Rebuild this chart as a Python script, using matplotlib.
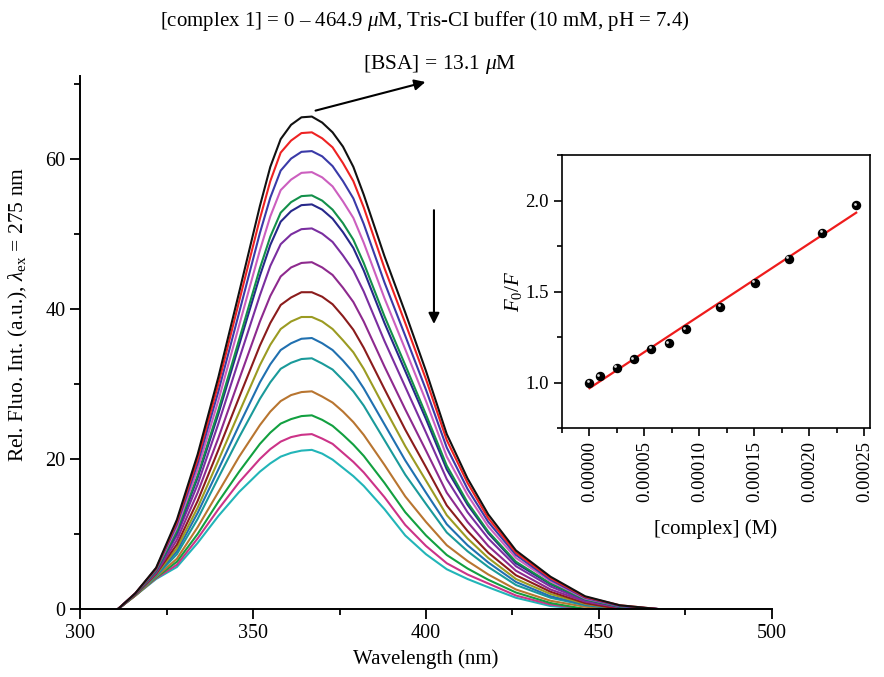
import numpy as np
import matplotlib
matplotlib.use("Agg")
import matplotlib.pyplot as plt
from matplotlib.ticker import MultipleLocator, FormatStrFormatter
from matplotlib.transforms import offset_copy

plt.rcParams['font.family'] = ['Liberation Serif', 'DejaVu Serif']
plt.rcParams['mathtext.fontset'] = 'custom'
plt.rcParams['mathtext.rm'] = 'Liberation Serif'
plt.rcParams['mathtext.it'] = 'Liberation Serif:italic'

nan = np.nan

# emission spectra
wl = [311, 316, 322, 328, 334, 340, 346, 352, 355, 358, 361, 364, 367, 370,
      373, 376, 379, 382, 388, 394, 400, 406, 412, 418, 426, 436, 446, 456, 467]

black = [0, 2.1, 5.5, 11.9, 20.6, 30.9, 42.2, 53.7, 58.9, 62.6, 64.5, 65.5, 65.6, 64.8, 63.5, 61.6, 58.9, 55.2, 47.0, 39.5, 31.7, 23.3, 17.4, 12.6, 7.8, 4.3, 1.7, 0.5, 0]
red = [0, 2.1, 5.4, 11.6, 20.0, 30.0, 41.0, 52.0, 57.0, 60.8, 62.4, 63.4, 63.5, 62.7, 61.5, 59.4, 57.0, 53.5, 45.4, 38.1, 30.6, 22.5, 16.8, 12.1, 7.5, 4.1, 1.6, 0.5, 0]
blue = [0, 2.1, 5.3, 11.3, 19.4, 29.0, 39.5, 50.1, 54.8, 58.4, 60.0, 60.9, 61.0, 60.3, 59.0, 57.0, 54.7, 51.3, 43.5, 36.4, 29.2, 21.5, 16.0, 11.6, 7.2, 3.9, 1.5, 0.4, 0]
pink = [0, 2.1, 5.3, 10.9, 18.6, 27.8, 37.8, 47.8, 52.3, 55.8, 57.2, 58.1, 58.2, 57.5, 56.3, 54.3, 52.1, 48.8, 41.4, 34.6, 27.7, 20.3, 15.2, 11.0, 6.8, 3.7, 1.4, 0.4, 0]
green = [0, 2.0, 5.1, 10.4, 17.8, 26.5, 35.9, 45.4, 49.6, 52.8, 54.2, 55.0, 55.1, 54.4, 53.2, 51.4, 49.2, 46.1, 39.0, 32.5, 25.9, 19.1, 14.2, 10.3, 6.3, 3.4, 1.3, 0.3, 0]
navy = [0, 2.0, 5.1, 10.2, 17.5, 26.0, 35.2, 44.4, 48.5, 51.6, 53.0, 53.8, 53.9, 53.2, 52.0, 50.2, 48.1, 45.1, 38.1, 31.7, 25.3, 18.6, 13.9, 10.1, 6.1, 3.3, 1.3, 0.3, 0]
violet = [0, 2.0, 5.0, 9.8, 16.6, 24.7, 33.3, 41.8, 45.7, 48.6, 49.9, 50.6, 50.7, 50.0, 48.9, 47.1, 45.1, 42.3, 35.7, 29.6, 23.5, 17.3, 12.9, 9.4, 5.7, 3.0, 1.1, 0.3, 0]
purple = [0, 2.0, 4.8, 9.2, 15.5, 22.8, 30.6, 38.3, 41.7, 44.3, 45.5, 46.1, 46.2, 45.5, 44.5, 42.8, 40.9, 38.3, 32.3, 26.6, 21.1, 15.5, 11.6, 8.4, 5.1, 2.6, 1.0, 0.2, 0]
wine = [0, 1.9, 4.7, 8.6, 14.4, 21.2, 28.2, 35.1, 38.1, 40.5, 41.5, 42.2, 42.2, 41.6, 40.6, 39.0, 37.2, 34.8, 29.3, 23.9, 18.9, 13.8, 10.4, 7.5, 4.5, 2.3, 0.8, 0, nan]
olive = [0, 1.9, 4.6, 8.1, 13.5, 19.8, 26.2, 32.5, 35.2, 37.3, 38.3, 38.9, 38.9, 38.3, 37.3, 35.8, 34.2, 32.0, 26.8, 21.7, 17.1, 12.5, 9.4, 6.8, 4.0, 2.0, 0.7, 0, nan]
royal = [0, 1.9, 4.5, 7.7, 12.8, 18.6, 24.5, 30.2, 32.6, 34.5, 35.4, 36.0, 36.1, 35.4, 34.5, 33.1, 31.5, 29.4, 24.6, 19.8, 15.5, 11.3, 8.5, 6.2, 3.6, 1.7, 0.6, 0, nan]
teal = [0, 1.9, 4.4, 7.3, 12.0, 17.5, 22.9, 28.0, 30.2, 32.0, 32.8, 33.3, 33.4, 32.7, 31.9, 30.5, 29.0, 27.1, 22.5, 17.9, 14.0, 10.2, 7.7, 5.6, 3.2, 1.5, 0.5, 0, nan]
orange = [0, 1.8, 4.3, 6.7, 10.9, 15.6, 20.3, 24.5, 26.3, 27.7, 28.5, 28.9, 29.0, 28.3, 27.5, 26.3, 24.9, 23.2, 19.2, 15.0, 11.6, 8.5, 6.4, 4.6, 2.6, 1.1, 0.3, 0, nan]
green2 = [0, 1.8, 4.2, 6.3, 10.0, 14.3, 18.3, 22.0, 23.5, 24.7, 25.3, 25.7, 25.8, 25.2, 24.4, 23.2, 21.9, 20.4, 16.8, 12.9, 9.8, 7.2, 5.4, 3.9, 2.2, 0.8, 0, nan, nan]
magenta = [0, 1.8, 4.1, 5.9, 9.4, 13.3, 16.9, 20.0, 21.3, 22.3, 22.9, 23.2, 23.3, 22.7, 22.0, 20.8, 19.6, 18.2, 14.9, 11.2, 8.4, 6.1, 4.6, 3.4, 1.8, 0.6, 0, nan, nan]
cyan = [0, 1.8, 4.0, 5.6, 8.8, 12.4, 15.6, 18.3, 19.4, 20.3, 20.8, 21.1, 21.2, 20.7, 19.9, 18.8, 17.7, 16.4, 13.3, 9.8, 7.3, 5.3, 4.0, 2.9, 1.5, 0.4, 0, nan, nan]

spectra = [black, red, blue, pink, green, navy, violet, purple, wine,
           olive, royal, teal, orange, green2, magenta, cyan]
colors = ['#111111', '#ee2222', '#3a3aa8', '#cc5fbf', '#13904a', '#27288a',
          '#7a2ea0', '#8e2a8e', '#8b1c1c', '#9b9b22', '#2070b0', '#1a9a9a',
          '#b87530', '#12a040', '#cc3388', '#22b5b8']

# Stern-Volmer inset
conc = [0, 0.96e-5, 2.46e-5, 4.04e-5, 5.63e-5, 7.19e-5, 8.77e-5, 11.89e-5,
        15.03e-5, 18.11e-5, 21.17e-5, 24.25e-5]
f0f = [1.000, 1.033, 1.082, 1.128, 1.186, 1.216, 1.293, 1.415, 1.548, 1.680,
       1.823, 1.973]

fig = plt.figure(figsize=(8.84, 6.77), dpi=100)
ax = fig.add_axes([0.0905, 0.1004, 0.7828, 0.7873])

for ys, c in zip(spectra[::-1], colors[::-1]):
    ax.plot(wl, ys, color=c, lw=1.5, solid_joinstyle='round')

ax.set_xlim(300, 500)
ax.set_ylim(0, 71)
ax.spines['top'].set_visible(False)
ax.spines['right'].set_visible(False)
for s in ['left', 'bottom']:
    ax.spines[s].set_linewidth(1.4)
ax.xaxis.set_major_locator(MultipleLocator(50))
ax.xaxis.set_minor_locator(MultipleLocator(25))
ax.yaxis.set_major_locator(MultipleLocator(20))
ax.yaxis.set_minor_locator(MultipleLocator(10))
ax.tick_params(which='major', direction='out', length=7, width=1.3, labelsize=14.5)
ax.tick_params(which='minor', direction='out', length=4, width=1.3)
ax.set_xlabel('Wavelength (nm)', fontsize=15, labelpad=5)
ax.set_ylabel(r'Rel. Fluo. Int. (a.u.), $\lambda_{\rm ex}$ = 275 nm', fontsize=15.5)
ax.yaxis.set_label_coords(-0.072, 0.553)

fig.text(0.481, 0.969, r'[complex 1] = 0 – 464.9 $\mu$M, Tris-CI buffer (10 mM, pH = 7.4)',
         ha='center', va='center', fontsize=15)
ax.text(404, 72.6, r'[BSA] = 13.1 $\mu$M', ha='center', va='center', fontsize=15.5, clip_on=False)
ax.annotate('', xy=(400.6, 70.3), xytext=(367.3, 66.3),
            arrowprops=dict(arrowstyle='-|>', color='black', lw=1.5, mutation_scale=16),
            annotation_clip=False)
ax.annotate('', xy=(402.3, 37.6), xytext=(402.3, 53.5),
            arrowprops=dict(arrowstyle='-|>', color='black', lw=1.5, mutation_scale=16))

# inset
ins = fig.add_axes([0.6357, 0.3678, 0.3484, 0.4032])
coef = np.polyfit(conc, f0f, 1)
xf = np.array([conc[0], conc[-1]])
ins.plot(xf, np.polyval(coef, xf), color='#ee1c1c', lw=1.6, zorder=2)
ins.plot(conc, f0f, 'o', color='black', ms=5.8, zorder=3)
hl = offset_copy(ins.transData, fig=fig, x=-1.1, y=1.1, units='points')
ins.plot(conc, f0f, 'o', color='#d8d8d8', ms=2.0, mec='none', transform=hl, zorder=4)

ins.set_xlim(-0.000025, 0.000255)
ins.set_ylim(0.75, 2.25)
ins.xaxis.set_major_locator(MultipleLocator(0.00005))
ins.xaxis.set_minor_locator(MultipleLocator(0.000025))
ins.yaxis.set_major_locator(MultipleLocator(0.5))
ins.yaxis.set_minor_locator(MultipleLocator(0.25))
ins.xaxis.set_major_formatter(FormatStrFormatter('%.5f'))
ins.yaxis.set_major_formatter(FormatStrFormatter('%.1f'))
for s in ins.spines.values():
    s.set_linewidth(1.2)
ins.tick_params(which='major', direction='out', length=6, width=1.2, labelsize=13.5)
ins.tick_params(which='minor', direction='out', length=3.5, width=1.2)
ins.tick_params(axis='x', labelrotation=90)
ins.set_xlabel('[complex] (M)', fontsize=15, labelpad=12)
ins.set_ylabel(r'$F_0/F$', fontsize=15, labelpad=1)

fig.savefig('out.png', dpi=100)
